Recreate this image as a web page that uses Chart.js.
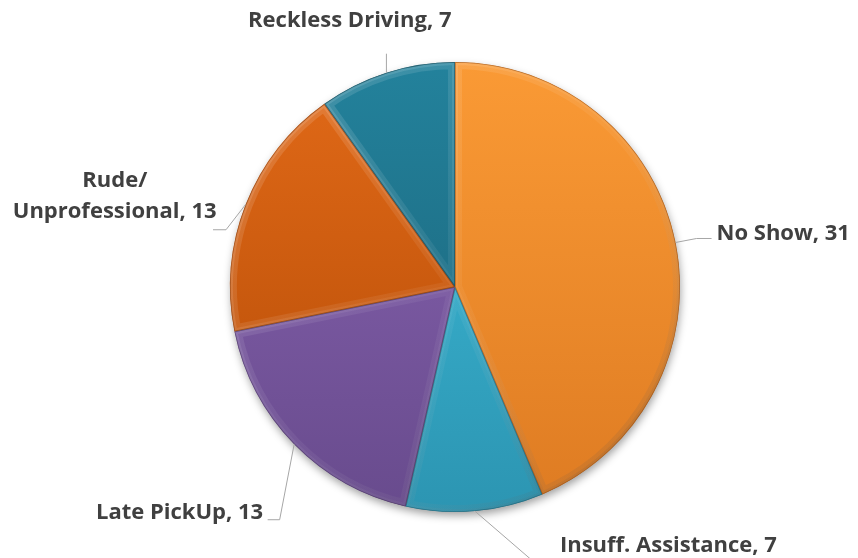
<!DOCTYPE html>
<html>
<head>
<meta charset="utf-8">
<script src="https://cdn.jsdelivr.net/npm/chart.js@4/dist/chart.umd.min.js"></script>
<style>
  html, body { margin: 0; padding: 0; background: #ffffff; }
  #wrap { width: 858px; height: 558px; }
</style>
</head>
<body>
<div id="wrap"><canvas id="pie" width="858" height="558"></canvas></div>
<script>
// Complaint categories and their counts
const categories = ['No Show', 'Insuff. Assistance', 'Late PickUp', 'Rude/Unprofessional', 'Reckless Driving'];
const complaintCounts = [31, 7, 13, 13, 7];

// Slice fills: lighter shade at the top of the pie, deeper shade at the bottom
const sliceTop = ['#FA9A35', '#3EBDDA', '#8964B2', '#E26A18', '#23829C'];
const sliceBottom = ['#DE7B22', '#2C95B2', '#684B8D', '#B34B06', '#1A5F74'];
const sliceEdge = ['#9A4F12', '#1C6175', '#44305E', '#7A3204', '#0F3F4D'];

// Where each data label sits relative to the point on the rim it points at
const labelLayout = [
  { path: [[21, -4], [36, -4]], lines: [[41, -2, 'left']] },
  { path: [[65, 56]], lines: [[85, 41, 'left']] },
  { path: [[-14.5, 75.4], [-26.5, 75.4]], lines: [[-31, 75, 'right']] },
  { path: [[-19.7, 25.4], [-32.7, 25.4]], lines: [[-131, -17.5, 'center'], [-131, 13.5, 'center']] },
  { path: [[0, -19]], lines: [[-36.6, -45.6, 'center']] }
];

function labelText(i) {
  const name = categories[i];
  const cut = name.indexOf('/');
  const parts = cut >= 0 ? [name.slice(0, cut + 1), name.slice(cut + 1)] : [name];
  parts[parts.length - 1] += ', ' + complaintCounts[i];
  return parts;
}

function sliceFill(ctx) {
  const chart = ctx.chart;
  const area = chart.chartArea;
  const i = ctx.dataIndex;
  if (!area) return sliceTop[i];
  const g = chart.ctx.createLinearGradient(0, area.top, 0, area.bottom);
  g.addColorStop(0, sliceTop[i]);
  g.addColorStop(1, sliceBottom[i]);
  return g;
}

function arcPath(c, a) {
  c.beginPath();
  c.moveTo(a.x, a.y);
  c.arc(a.x, a.y, a.outerRadius, a.startAngle, a.endAngle);
  c.closePath();
}

// Soft drop shadow under the whole pie (the dark disc also fills the seams between slices)
const pieShadow = {
  id: 'pieShadow',
  beforeDatasetsDraw(chart) {
    const arcs = chart.getDatasetMeta(0).data;
    if (!arcs.length) return;
    const a = arcs[0];
    const c = chart.ctx;
    c.save();
    c.shadowColor = 'rgba(0,0,0,0.38)';
    c.shadowBlur = 9;
    c.shadowOffsetX = 1;
    c.shadowOffsetY = 4;
    c.fillStyle = '#5a4030';
    c.beginPath();
    c.arc(a.x, a.y, a.outerRadius - 0.5, 0, Math.PI * 2);
    c.fill();
    c.restore();
  }
};

// Bevelled edge on every slice: light along upper-left edges, dark along lower-right
const sliceBevel = {
  id: 'sliceBevel',
  afterDatasetsDraw(chart) {
    const c = chart.ctx;
    chart.getDatasetMeta(0).data.forEach((a, i) => {
      const r = a.outerRadius;
      c.save();
      arcPath(c, a);
      c.clip();
      const g = c.createLinearGradient(a.x - r, a.y - r, a.x + r, a.y + r);
      g.addColorStop(0, 'rgba(255,255,255,0.16)');
      g.addColorStop(0.5, 'rgba(255,255,255,0.05)');
      g.addColorStop(1, 'rgba(0,0,0,0.14)');
      c.strokeStyle = g;
      c.lineJoin = 'round';
      c.lineWidth = 14;
      arcPath(c, a);
      c.stroke();
      c.lineWidth = 6;
      arcPath(c, a);
      c.stroke();
      // thin dark outline on the slice boundary
      c.strokeStyle = sliceEdge[i];
      c.globalAlpha = 0.6;
      c.lineWidth = 1.6;
      arcPath(c, a);
      c.stroke();
      c.restore();
    });
  }
};

// Data labels with grey leader lines
const calloutLabels = {
  id: 'calloutLabels',
  afterDraw(chart) {
    const c = chart.ctx;
    c.save();
    chart.getDatasetMeta(0).data.forEach((a, i) => {
      const mid = (a.startAngle + a.endAngle) / 2;
      const ax = a.x + Math.cos(mid) * a.outerRadius;
      const ay = a.y + Math.sin(mid) * a.outerRadius;
      const lay = labelLayout[i];
      c.strokeStyle = '#a6a6a6';
      c.lineWidth = 1;
      c.beginPath();
      c.moveTo(ax, ay);
      lay.path.forEach(([dx, dy]) => c.lineTo(ax + dx, ay + dy));
      c.stroke();
      c.fillStyle = '#404040';
      c.font = 'bold 22px "Open Sans", Lato, sans-serif';
      c.textBaseline = 'alphabetic';
      const text = labelText(i);
      lay.lines.forEach(([dx, dy, align], k) => {
        c.textAlign = align;
        c.fillText(text[k], ax + dx, ay + dy);
      });
    });
    c.restore();
  }
};

new Chart(document.getElementById('pie'), {
  type: 'pie',
  data: {
    labels: categories,
    datasets: [{
      data: complaintCounts,
      backgroundColor: sliceFill,
      borderWidth: 0,
      hoverOffset: 0
    }]
  },
  options: {
    responsive: false,
    animation: false,
    events: [],
    layout: { padding: { left: 230, right: 178, top: 62, bottom: 46 } },
    plugins: {
      legend: { display: false },
      tooltip: { enabled: false },
      title: { display: false }
    }
  },
  plugins: [pieShadow, sliceBevel, calloutLabels]
});
</script>
</body>
</html>
